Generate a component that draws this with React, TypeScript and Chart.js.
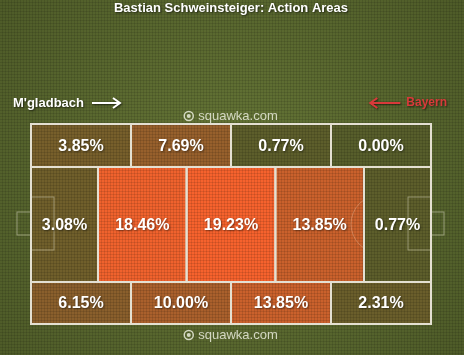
import { useEffect, useRef } from 'react';
import { Chart, registerables } from 'chart.js';

Chart.register(...registerables);

const chartTitle = 'Bastian Schweinsteiger: Action Areas';
const homeTeam = "M'gladbach";
const awayTeam = 'Bayern';
const watermark = 'squawka.com';

// Pitch in relative units: length 0-100 (left to right), width 0-100 (top to bottom)
const wingEdges = [0, 25, 50, 75, 100];
const centralEdges = [0, 16.75, 38.9, 61.1, 83.25, 100];
const bandEdges = [0, 21.5, 79, 100];
const topValues = [3.85, 7.69, 0.77, 0.0];
const middleValues = [3.08, 18.46, 19.23, 13.85, 0.77];
const bottomValues = [6.15, 10.0, 13.85, 2.31];

const LOW = [87, 94, 43];
const HIGH = [246, 98, 45];

function cellColor(v: number, max: number) {
  const t = Math.max(0, Math.min(1, v / max));
  const c = LOW.map((l, i) => Math.round(l + (HIGH[i] - l) * t));
  return `rgb(${c[0]},${c[1]},${c[2]})`;
}

let texturePattern: CanvasPattern | null = null;
function getTexture(ctx: CanvasRenderingContext2D) {
  if (texturePattern) return texturePattern;
  const c = document.createElement('canvas');
  c.width = 3;
  c.height = 3;
  const g = c.getContext('2d')!;
  g.fillStyle = 'rgba(0,0,0,0.10)';
  g.fillRect(0, 2, 3, 1);
  g.fillRect(2, 0, 1, 3);
  texturePattern = ctx.createPattern(c, 'repeat');
  return texturePattern;
}

const pitchPlugin = {
  id: 'pitchPlugin',
  beforeDraw(chart: any) {
    const { ctx, width, height } = chart;
    ctx.save();
    const grad = ctx.createRadialGradient(width / 2, height / 2, 20, width / 2, height / 2, width * 0.62);
    grad.addColorStop(0, '#657536');
    grad.addColorStop(1, '#4e5b28');
    ctx.fillStyle = grad;
    ctx.fillRect(0, 0, width, height);
    const pat = getTexture(ctx);
    if (pat) {
      ctx.fillStyle = pat;
      ctx.fillRect(0, 0, width, height);
    }

    const xs = chart.scales.x;
    const ys = chart.scales.y;
    const area = chart.chartArea;
    const cx = (area.left + area.right) / 2;

    // title
    ctx.shadowColor = 'rgba(0,0,0,0.6)';
    ctx.shadowBlur = 2;
    ctx.shadowOffsetX = 1;
    ctx.shadowOffsetY = 1;
    ctx.fillStyle = '#ffffff';
    ctx.font = 'bold 13px "Liberation Sans", Arial, sans-serif';
    ctx.textAlign = 'center';
    ctx.textBaseline = 'middle';
    ctx.fillText(chartTitle, cx, 8);

    // team direction labels
    const labelY = area.top - 21;
    ctx.textAlign = 'left';
    ctx.font = 'bold 13px "Liberation Sans", Arial, sans-serif';
    ctx.fillText(homeTeam, 13, labelY);
    const hw = ctx.measureText(homeTeam).width;
    const a0 = 13 + hw + 8;
    const a1 = a0 + 28;
    ctx.strokeStyle = '#ffffff';
    ctx.lineWidth = 2;
    ctx.beginPath();
    ctx.moveTo(a0, labelY);
    ctx.lineTo(a1, labelY);
    ctx.moveTo(a1 - 7, labelY - 5);
    ctx.lineTo(a1, labelY);
    ctx.lineTo(a1 - 7, labelY + 5);
    ctx.stroke();

    ctx.fillStyle = '#d83a3a';
    ctx.strokeStyle = '#d83a3a';
    ctx.font = 'bold 12px "Liberation Sans", Arial, sans-serif';
    ctx.textAlign = 'right';
    ctx.fillText(awayTeam, 447, labelY);
    const bw = ctx.measureText(awayTeam).width;
    const b1 = 447 - bw - 6;
    const b0 = b1 - 30;
    ctx.beginPath();
    ctx.moveTo(b1, labelY);
    ctx.lineTo(b0, labelY);
    ctx.moveTo(b0 + 7, labelY - 5);
    ctx.lineTo(b0, labelY);
    ctx.lineTo(b0 + 7, labelY + 5);
    ctx.stroke();

    // watermarks
    ctx.shadowColor = 'transparent';
    const drawMark = (y: number) => {
      ctx.font = '13px "Liberation Sans", Arial, sans-serif';
      ctx.textAlign = 'left';
      const tw = ctx.measureText(watermark).width;
      const total = tw + 14;
      const sx = cx - total / 2;
      ctx.fillStyle = 'rgba(225,228,210,0.9)';
      ctx.strokeStyle = 'rgba(225,228,210,0.9)';
      ctx.lineWidth = 1.5;
      ctx.beginPath();
      ctx.arc(sx + 4.5, y, 4.5, 0, Math.PI * 2);
      ctx.stroke();
      ctx.beginPath();
      ctx.arc(sx + 4.5, y, 2, 0, Math.PI * 2);
      ctx.fill();
      ctx.fillText(watermark, sx + 14, y);
    };
    drawMark(area.top - 8);
    drawMark(area.bottom + 11);

    // goals (outside the pitch)
    ctx.strokeStyle = 'rgba(230,228,200,0.5)';
    ctx.lineWidth = 1;
    ctx.strokeRect(xs.getPixelForValue(-3.5), ys.getPixelForValue(44), xs.getPixelForValue(0) - xs.getPixelForValue(-3.5), ys.getPixelForValue(55.5) - ys.getPixelForValue(44));
    ctx.strokeRect(xs.getPixelForValue(100), ys.getPixelForValue(44), xs.getPixelForValue(103.25) - xs.getPixelForValue(100), ys.getPixelForValue(55.5) - ys.getPixelForValue(44));
    ctx.restore();
  },
  beforeDatasetsDraw(chart: any) {
    const { ctx } = chart;
    const xs = chart.scales.x;
    const ys = chart.scales.y;
    const rows = [
      { edges: wingEdges, values: topValues, y0: bandEdges[0], y1: bandEdges[1] },
      { edges: centralEdges, values: middleValues, y0: bandEdges[1], y1: bandEdges[2] },
      { edges: wingEdges, values: bottomValues, y0: bandEdges[2], y1: bandEdges[3] },
    ];
    const max = Math.max(...topValues, ...middleValues, ...bottomValues);
    ctx.save();
    const pat = getTexture(ctx);
    rows.forEach((row) => {
      row.values.forEach((v, i) => {
        const l = xs.getPixelForValue(row.edges[i]);
        const r = xs.getPixelForValue(row.edges[i + 1]);
        const t = ys.getPixelForValue(row.y0);
        const b = ys.getPixelForValue(row.y1);
        ctx.fillStyle = cellColor(v, max);
        ctx.fillRect(l, t, r - l, b - t);
        if (pat) {
          ctx.fillStyle = pat;
          ctx.fillRect(l, t, r - l, b - t);
        }
      });
    });

    // faint markings: penalty boxes and arc
    ctx.strokeStyle = 'rgba(235,232,205,0.45)';
    ctx.lineWidth = 1;
    const pt = ys.getPixelForValue(36.5);
    const pb = ys.getPixelForValue(63);
    ctx.strokeRect(xs.getPixelForValue(0), pt, xs.getPixelForValue(5.75) - xs.getPixelForValue(0), pb - pt);
    ctx.strokeRect(xs.getPixelForValue(94.25), pt, xs.getPixelForValue(100) - xs.getPixelForValue(94.25), pb - pt);
    ctx.save();
    const cl = xs.getPixelForValue(centralEdges[3]);
    const cr = xs.getPixelForValue(centralEdges[4]);
    ctx.beginPath();
    ctx.rect(cl, ys.getPixelForValue(bandEdges[1]), cr - cl, ys.getPixelForValue(bandEdges[2]) - ys.getPixelForValue(bandEdges[1]));
    ctx.clip();
    ctx.strokeStyle = 'rgba(240,200,170,0.35)';
    ctx.beginPath();
    ctx.arc(xs.getPixelForValue(87.25), ys.getPixelForValue(50), 29, 0, Math.PI * 2);
    ctx.stroke();
    ctx.restore();

    // cell borders
    ctx.strokeStyle = '#e4e0d2';
    ctx.lineWidth = 2;
    rows.forEach((row) => {
      row.values.forEach((_v, i) => {
        const l = xs.getPixelForValue(row.edges[i]);
        const r = xs.getPixelForValue(row.edges[i + 1]);
        const t = ys.getPixelForValue(row.y0);
        const b = ys.getPixelForValue(row.y1);
        ctx.strokeRect(l, t, r - l, b - t);
      });
    });

    // labels
    ctx.fillStyle = '#ffffff';
    ctx.font = 'bold 16px "Liberation Sans", Arial, sans-serif';
    ctx.textAlign = 'center';
    ctx.textBaseline = 'middle';
    ctx.shadowColor = 'rgba(0,0,0,0.45)';
    ctx.shadowBlur = 2;
    ctx.shadowOffsetX = 1;
    ctx.shadowOffsetY = 1;
    rows.forEach((row) => {
      row.values.forEach((v, i) => {
        const mx = (xs.getPixelForValue(row.edges[i]) + xs.getPixelForValue(row.edges[i + 1])) / 2;
        const my = (ys.getPixelForValue(row.y0) + ys.getPixelForValue(row.y1)) / 2;
        ctx.fillText(`${v.toFixed(2)}%`, mx, my + 1);
      });
    });
    ctx.restore();
  },
};

export default function App() {
  const ref = useRef<HTMLCanvasElement | null>(null);
  useEffect(() => {
    if (!ref.current) return;
    const chart = new Chart(ref.current, {
      type: 'scatter',
      data: { datasets: [{ data: [] }] },
      options: {
        animation: false,
        responsive: false,
        events: [],
        layout: { padding: { left: 31, right: 33, top: 124, bottom: 31 } },
        scales: {
          x: { type: 'linear', min: 0, max: 100, display: false },
          y: { type: 'linear', min: 0, max: 100, reverse: true, display: false },
        },
        plugins: { legend: { display: false }, tooltip: { enabled: false }, title: { display: false } },
      },
      plugins: [pitchPlugin],
    });
    return () => chart.destroy();
  }, []);
  return (
    <div style={{ position: 'fixed', left: 0, top: 0, width: 464, height: 355 }}>
      <canvas ref={ref} width={464} height={355} />
    </div>
  );
}
